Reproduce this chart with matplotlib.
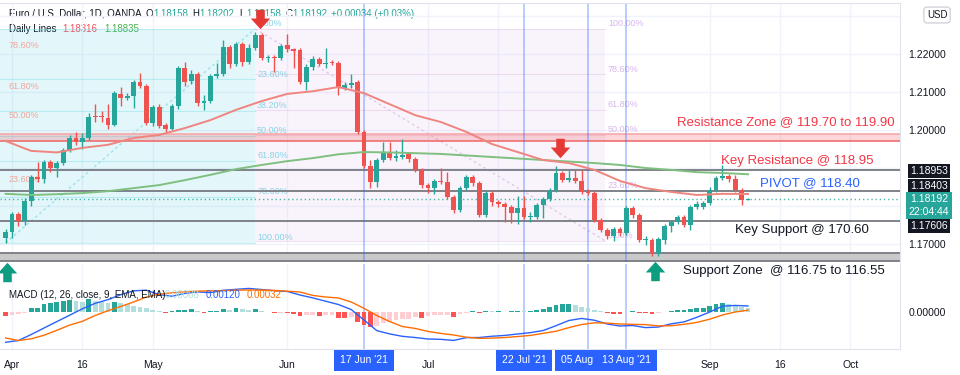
import numpy as np
import pandas as pd
import matplotlib
matplotlib.use("Agg")
import matplotlib.pyplot as plt
from matplotlib.path import Path
from matplotlib.transforms import blended_transform_factory

plt.rcParams['font.family'] = ['Liberation Sans', 'DejaVu Sans']

# EUR/USD daily bars, first bar 31 Mar 2021, last bar 09 Sep 2021
first_day = "2021-03-31"
opens = [1.1716, 1.1732, 1.1779, 1.1760, 1.1813, 1.1876, 1.1871, 1.1916, 1.1900, 1.1913,
         1.1947, 1.1979, 1.1968, 1.1979, 1.2037, 1.2037, 1.2032, 1.2013, 1.2095, 1.2084,
         1.2089, 1.2126, 1.2116, 1.2018, 1.2060, 1.2013, 1.2003, 1.2063, 1.2163, 1.2129,
         1.2147, 1.2071, 1.2076, 1.2142, 1.2147, 1.2218, 1.2174, 1.2226, 1.2179, 1.2216,
         1.2250, 1.2190, 1.2192, 1.2190, 1.2224, 1.2213, 1.2211, 1.2126, 1.2166, 1.2187,
         1.2174, 1.2179, 1.2176, 1.2110, 1.2118, 1.2126, 1.1995, 1.1905, 1.1863, 1.1921,
         1.1942, 1.1926, 1.1929, 1.1937, 1.1924, 1.1895, 1.1855, 1.1847, 1.1866, 1.1863,
         1.1824, 1.1789, 1.1847, 1.1876, 1.1861, 1.1776, 1.1834, 1.1810, 1.1805, 1.1797,
         1.1782, 1.1795, 1.1771, 1.1771, 1.1803, 1.1818, 1.1842, 1.1887, 1.1868, 1.1874,
         1.1866, 1.1837, 1.1834, 1.1763, 1.1737, 1.1721, 1.1739, 1.1729, 1.1795, 1.1776,
         1.1710, 1.1710, 1.1676, 1.1710, 1.1747, 1.1758, 1.1771, 1.1750, 1.1797, 1.1797,
         1.1808, 1.1842, 1.1874, 1.1879, 1.1871, 1.1842, 1.18158]
highs = [1.1739, 1.1784, 1.1784, 1.1821, 1.1882, 1.1916, 1.1921, 1.1921, 1.1918, 1.1953,
         1.1987, 1.1995, 1.1992, 1.2045, 1.2068, 1.2050, 1.2068, 1.2102, 1.2113, 1.2097,
         1.2132, 1.2150, 1.2121, 1.2066, 1.2068, 1.2018, 1.2068, 1.2168, 1.2179, 1.2158,
         1.2153, 1.2092, 1.2147, 1.2176, 1.2237, 1.2224, 1.2232, 1.2232, 1.2226, 1.2258,
         1.2255, 1.2197, 1.2197, 1.2226, 1.2253, 1.2216, 1.2216, 1.2174, 1.2195, 1.2192,
         1.2216, 1.2184, 1.2182, 1.2126, 1.2147, 1.2132, 1.2000, 1.1921, 1.1926, 1.1968,
         1.1968, 1.1947, 1.1976, 1.1942, 1.1929, 1.1900, 1.1861, 1.1871, 1.1900, 1.1889,
         1.1829, 1.1853, 1.1882, 1.1882, 1.1866, 1.1839, 1.1839, 1.1816, 1.1810, 1.1803,
         1.1826, 1.1826, 1.1784, 1.1808, 1.1824, 1.1847, 1.1905, 1.1892, 1.1895, 1.1895,
         1.1895, 1.1845, 1.1839, 1.1768, 1.1742, 1.1745, 1.1745, 1.1800, 1.1800, 1.1782,
         1.1721, 1.1716, 1.1718, 1.1753, 1.1763, 1.1776, 1.1776, 1.1803, 1.1813, 1.1813,
         1.1850, 1.1879, 1.1908, 1.1884, 1.1882, 1.1847, 1.18202]
lows = [1.1703, 1.1716, 1.1747, 1.1750, 1.1800, 1.1863, 1.1861, 1.1889, 1.1876, 1.1908,
        1.1942, 1.1961, 1.1950, 1.1974, 1.2021, 1.2021, 1.2003, 1.2010, 1.2063, 1.2079,
        1.2058, 1.2110, 1.2013, 1.2010, 1.2005, 1.1992, 1.2000, 1.2055, 1.2116, 1.2121,
        1.2063, 1.2053, 1.2071, 1.2137, 1.2142, 1.2163, 1.2168, 1.2168, 1.2174, 1.2211,
        1.2184, 1.2179, 1.2153, 1.2184, 1.2205, 1.2163, 1.2121, 1.2105, 1.2158, 1.2168,
        1.2163, 1.2171, 1.2092, 1.2105, 1.2110, 1.1989, 1.1900, 1.1847, 1.1850, 1.1916,
        1.1921, 1.1918, 1.1924, 1.1916, 1.1889, 1.1847, 1.1834, 1.1832, 1.1858, 1.1818,
        1.1782, 1.1784, 1.1842, 1.1853, 1.1771, 1.1771, 1.1800, 1.1797, 1.1758, 1.1755,
        1.1753, 1.1766, 1.1758, 1.1766, 1.1768, 1.1813, 1.1837, 1.1863, 1.1863, 1.1861,
        1.1832, 1.1829, 1.1758, 1.1732, 1.1713, 1.1708, 1.1721, 1.1724, 1.1768, 1.1705,
        1.1697, 1.1668, 1.1668, 1.1700, 1.1732, 1.1753, 1.1745, 1.1737, 1.1792, 1.1792,
        1.1803, 1.1837, 1.1868, 1.1863, 1.1837, 1.1803, 1.18158]
closes = [1.1732, 1.1779, 1.1760, 1.1813, 1.1876, 1.1871, 1.1916, 1.1900, 1.1913, 1.1947,
          1.1979, 1.1968, 1.1979, 1.2034, 1.2034, 1.2034, 1.2013, 1.2097, 1.2084, 1.2089,
          1.2126, 1.2116, 1.2018, 1.2060, 1.2010, 1.2003, 1.2063, 1.2163, 1.2126, 1.2147,
          1.2071, 1.2076, 1.2142, 1.2147, 1.2218, 1.2174, 1.2226, 1.2179, 1.2216, 1.2250,
          1.2190, 1.2192, 1.2190, 1.2221, 1.2213, 1.2208, 1.2126, 1.2166, 1.2187, 1.2174,
          1.2176, 1.2176, 1.2110, 1.2118, 1.2124, 1.1995, 1.1905, 1.1863, 1.1921, 1.1942,
          1.1926, 1.1932, 1.1934, 1.1924, 1.1895, 1.1855, 1.1847, 1.1866, 1.1863, 1.1824,
          1.1789, 1.1847, 1.1876, 1.1861, 1.1776, 1.1834, 1.1810, 1.1805, 1.1797, 1.1782,
          1.1795, 1.1771, 1.1774, 1.1803, 1.1818, 1.1842, 1.1887, 1.1868, 1.1874, 1.1866,
          1.1837, 1.1834, 1.1763, 1.1737, 1.1721, 1.1739, 1.1729, 1.1795, 1.1776, 1.1710,
          1.1713, 1.1676, 1.1713, 1.1747, 1.1758, 1.1771, 1.1750, 1.1797, 1.1805, 1.1808,
          1.1842, 1.1874, 1.1879, 1.1871, 1.1842, 1.1816, 1.18192]

# moving averages ("Daily Lines"), read every 4th bar
ma_bars = list(range(0, 117, 4))
ma_red = [1.1971, 1.1945, 1.1941, 1.1953, 1.1961, 1.1979, 1.1987, 1.2005, 1.2026, 1.2053,
          1.2076, 1.2095, 1.2102, 1.2113, 1.2097, 1.2068, 1.2039, 1.2021, 1.1995, 1.1963,
          1.1942, 1.1921, 1.1913, 1.1895, 1.1866, 1.1847, 1.1837, 1.1829, 1.1832, 1.18316]
ma_green = [1.1832, 1.1829, 1.1831, 1.1834, 1.1839, 1.1847, 1.1855, 1.1868, 1.1882, 1.1897,
            1.1908, 1.1918, 1.1926, 1.1936, 1.1942, 1.1941, 1.1939, 1.1937, 1.1933, 1.1929,
            1.1925, 1.1921, 1.1917, 1.1913, 1.1908, 1.1900, 1.1895, 1.1889, 1.1887, 1.18835]

# MACD (12, 26, 9), lines read every 2nd bar, histogram every bar
macd_bars = list(range(0, 117, 2))
macd_line = [-0.00641, -0.00605, -0.00479, -0.00342, -0.00208, -0.00074, 0.00061, 0.00176,
             0.00254, 0.00357, 0.00439, 0.00452, 0.00359, 0.00326, 0.00384, 0.00416, 0.00401,
             0.00449, 0.00470, 0.00489, 0.00466, 0.00441, 0.00426, 0.00351, 0.00290, 0.00221,
             0.00151, 0.00046, -0.00174, -0.00397, -0.00466, -0.00517, -0.00542, -0.00573,
             -0.00580, -0.00603, -0.00544, -0.00542, -0.00515, -0.00498, -0.00468, -0.00439,
             -0.00395, -0.00294, -0.00185, -0.00141, -0.00179, -0.00258, -0.00300, -0.00290,
             -0.00334, -0.00321, -0.00254, -0.00214, -0.00118, -0.00008, 0.00116, 0.00132,
             0.00120]
signal_line = [-0.00552, -0.00605, -0.00569, -0.00494, -0.00391, -0.00281, -0.00202, -0.00078,
               0.00021, 0.00111, 0.00204, 0.00309, 0.00368, 0.00397, 0.00418, 0.00433, 0.00437,
               0.00443, 0.00452, 0.00456, 0.00456, 0.00447, 0.00431, 0.00414, 0.00342, 0.00309,
               0.00288, 0.00204, 0.00071, -0.00080, -0.00206, -0.00311, -0.00351, -0.00414,
               -0.00456, -0.00489, -0.00536, -0.00559, -0.00554, -0.00542, -0.00521, -0.00498,
               -0.00454, -0.00410, -0.00334, -0.00269, -0.00233, -0.00239, -0.00258, -0.00265,
               -0.00271, -0.00298, -0.00294, -0.00265, -0.00225, -0.00158, -0.00069, -0.00006,
               0.00032]
macd_hist = [-0.00084, -0.00063, -0.00042, -0.00021, 0.00084, 0.00088, 0.00168, 0.00189, 0.00210,
             0.00231, 0.00252, 0.00231, 0.00210, 0.00258, 0.00231, 0.00200, 0.00179, 0.00210,
             0.00179, 0.00153, 0.00120, 0.00090, 0.00069, 0.00036, 0.00015, -0.00021, 0.00021,
             0.00036, 0.00037, 0.00048, 0.00021, -0.00021, 0.00010, 0.00021, 0.00057, 0.00036,
             0.00069, 0.00048, 0.00046, 0.00057, 0.00021, -0.00006, -0.00036, -0.00021,
             -0.00036, -0.00048, -0.00090, -0.00069, -0.00067, -0.00090, -0.00069, -0.00067,
             -0.00126, -0.00130, -0.00105, -0.00210, -0.00279, -0.00330, -0.00300, -0.00246,
             -0.00210, -0.00174, -0.00162, -0.00147, -0.00120, -0.00126, -0.00090, -0.00069,
             -0.00067, -0.00065, -0.00105, -0.00057, -0.00036, 0.00021, -0.00021, 0.00015,
             0.00010, 0.00012, -0.00010, 0.00010, 0.00012, 0.00006, 0.00015, 0.00036, 0.00057,
             0.00090, 0.00141, 0.00153, 0.00156, 0.00141, 0.00105, 0.00084, 0.00036, 0.00006,
             -0.00036, -0.00038, -0.00048, -0.00010, 0.00010, -0.00021, -0.00023, -0.00048,
             -0.00036, -0.00015, 0.00015, 0.00036, 0.00038, 0.00057, 0.00069, 0.00084, 0.00120,
             0.00153, 0.00174, 0.00153, 0.00120, 0.00105, 0.00088]

# horizontal levels
resist_zone = [1.1970, 1.1990]
support_zone = [1.1655, 1.1675]
key_resistance = 1.18953
pivot = 1.18403
key_support = 1.17606
last_price = 1.18192

# fibonacci drawings: [bar_start, bar_end], [low, high]
fib_cyan_bars = [-2, 39]
fib_cyan_range = [1.1703, 1.2266]
fib_pink_bars = [39, 93.7]
fib_pink_range = [1.1708, 1.2266]
fib_salmon_range = [1.1703, 1.2347]
fib_levels = [0.0, 0.236, 0.382, 0.5, 0.618, 0.786, 1.0]

tick_dates = ["2021-04-01", "2021-04-16", "2021-05-03", "2021-06-01", "2021-07-01",
              "2021-09-01", "2021-09-16", "2021-10-01"]
tick_names = ["Apr", "16", "May", "Jun", "Jul", "Sep", "16", "Oct"]
grid_dates = tick_dates + ["2021-07-16"]
marked_dates = ["2021-06-17", "2021-07-22", "2021-08-05", "2021-08-13"]
marked_names = ["17 Jun '21", "22 Jul '21", "05 Aug", "13 Aug '21"]

# arrows: (bar, price)
red_arrows = [(39.8, 1.2292), (86.6, 1.1953)]
green_arrows = [(0.2, 1.1626), (101.5, 1.1629)]

UP, DOWN = "#26a69a", "#ef5350"
INK = "#131722"
GRID = "#f0f3fa"

days = pd.bdate_range(first_day, periods=200)
def bar_of(d):
    return days.get_loc(pd.Timestamp(d))

bars = np.arange(len(closes)).astype(float)
o, h, l, c = map(np.array, (opens, highs, lows, closes))

W, H = 960, 375
fig = plt.figure(figsize=(9.6, 3.75), dpi=100, facecolor="white")
ax = fig.add_axes([0, 1 - 262 / H, 900 / W, 259 / H])
ax2 = fig.add_axes([0, 1 - 349 / H, 900 / W, 85 / H])
ax.set_zorder(3)
ax.set_facecolor("none")

xlim = (-0.875, 139.75)
ax.set_xlim(xlim)
ax2.set_xlim(xlim)
ax.set_ylim(1.165263, 1.233421)
ax2.set_ylim(-0.00783, 0.01002)

def px(x, y):
    return x / W, 1 - y / H

# grid
tick_pos = [bar_of(d) for d in tick_dates]
for t in [bar_of(d) for d in grid_dates]:
    ax.axvline(t, color=GRID, lw=1, zorder=0)
    ax2.axvline(t, color=GRID, lw=1, zorder=0)
price_ticks = [1.17, 1.18, 1.19, 1.20, 1.21, 1.22, 1.23]
for p in price_ticks:
    ax.axhline(p, color=GRID, lw=1, zorder=0)

# fib boxes
cy0, cy1 = fib_cyan_range
ax.fill_between(fib_cyan_bars, cy0, cy1, color="#00bcd4", alpha=0.11, lw=0, zorder=0.5)
for lv in fib_levels:
    pr = cy1 - lv * (cy1 - cy0)
    ax.plot(fib_cyan_bars, [pr, pr], color="#80deea", lw=0.8, alpha=0.45, zorder=0.6)
    ax.text(fib_cyan_bars[1] + 0.3, pr + 0.0002, f"{lv * 100:.2f}%", color="#86d3e6",
            fontsize=6.5, va="bottom", ha="left", zorder=1)
ax.plot([0, fib_cyan_bars[1]], [cy0, cy1], color="#9fe0ee", lw=1, ls=(0, (2, 2)), zorder=0.7)

py0, py1 = fib_pink_range
ax.fill_between(fib_pink_bars, py0, py1, color="#b36bd0", alpha=0.07, lw=0, zorder=0.5)
for lv in [0.0, 0.236, 0.5, 0.618, 0.786, 1.0]:
    pr = py0 + lv * (py1 - py0)
    ax.plot(fib_pink_bars, [pr, pr], color="#e1bee7", lw=0.8, alpha=0.45, zorder=0.6)
    ax.text(fib_pink_bars[1] + 0.4, pr + 0.0002, f"{lv * 100:.2f}%", color="#d7b6ec",
            fontsize=6.5, va="bottom", ha="left", zorder=1)
ax.plot(fib_pink_bars, [py1, py0], color="#e3c9ee", lw=1, ls=(0, (2, 2)), zorder=0.7)

sy0, sy1 = fib_salmon_range
for lv in [0.236, 0.5, 0.618, 0.786]:
    pr = sy0 + lv * (sy1 - sy0)
    ax.text(0.4, pr + 0.0002, f"{lv * 100:.2f}%", color="#f2a59d",
            fontsize=6.5, va="bottom", ha="left", zorder=1)

# zones and lines
ax.axhspan(resist_zone[0], resist_zone[1], color="#f23645", alpha=0.2, lw=0, zorder=1)
ax.axhline(resist_zone[1], color="#f7a9a8", lw=1.2, zorder=1.1)
ax.axhline(resist_zone[0], color="#ee6f6d", lw=1.2, zorder=1.1)
ax.axhspan(support_zone[0], support_zone[1], color="#c9c9c9", lw=0, zorder=1)
for p in support_zone + [key_resistance, pivot, key_support]:
    ax.axhline(p, color="#7f8288", lw=1.4, zorder=1.1)
ax.axhline(last_price, color=UP, lw=1, ls=(0, (1, 2)), alpha=0.8, zorder=1.1)

# marked dates
for d in marked_dates:
    b = bar_of(d)
    ax.axvline(b, color="#2962ff", alpha=0.35, lw=1.3, zorder=1.2)
    ax2.axvline(b, color="#2962ff", alpha=0.35, lw=1.3, zorder=1.2)

# candles
col = np.where(c >= o, UP, DOWN)
ax.vlines(bars, l, h, colors=col, lw=1, zorder=2)
body = np.maximum(np.abs(c - o), 0.00007)
ax.bar(bars, body, bottom=np.minimum(o, c), width=0.72, color=col, lw=0, zorder=2.1)

# moving averages
ax.plot(ma_bars, ma_red, color="#f0857f", lw=1.4, zorder=2.5)
ax.plot(ma_bars, ma_green, color="#7fbf7f", lw=1.4, zorder=2.4)

# arrows
arrow = Path([(-0.22, 0.5), (0.22, 0.5), (0.22, 0.05), (0.5, 0.05), (0, -0.5),
              (-0.5, 0.05), (-0.22, 0.05), (-0.22, 0.5)], closed=True)
up_arrow = Path(arrow.vertices * [1, -1], closed=True)
for b, p in red_arrows:
    ax.plot(b, p, marker=arrow, ms=14, color="#e53935", mec="none", clip_on=False, zorder=4)
for b, p in green_arrows:
    ax.plot(b, p, marker=up_arrow, ms=14, color="#0f9d82", mec="none", clip_on=False, zorder=4)

# annotations
def note(x, y, s, color):
    fx, fy = px(x, y)
    fig.text(fx, fy, s, color=color, fontsize=9.5, ha="left", va="center", zorder=8)

note(677, 122, "Resistance Zone @ 119.70 to 119.90", "#f23645")
note(721, 161, "Key Resistance @ 118.95", "#f23645")
note(760, 183, "PIVOT @ 118.40", "#2962ff")
note(735, 230, "Key Support @ 170.60", INK)
note(683, 271, "Support Zone  @ 116.75 to 116.55", INK)

# header
def head(x, y, s, color, fs=7, z=1):
    fx, fy = px(x, y)
    fig.text(fx, fy, s, color=color, fontsize=fs, ha="left", va="center", zorder=z)

head(9, 14, "Euro / U.S. Dollar, 1D, OANDA", INK)
for x0, k, v in [(146, "O", "1.18158"), (192, "H", "1.18202"), (239, "L", "1.18158"),
                 (285, "C", "1.18192")]:
    head(x0, 14, k, INK)
    head(x0 + 7, 14, v, UP)
head(331, 14, "+0.00034 (+0.03%)", UP)
head(9, 29, "Daily Lines", INK)
head(62, 29, "1.18316", "#f7525f")
head(104, 29, "1.18835", "#4caf50")

# MACD pane
hist_cols = []
prev = 0.0
for v in macd_hist:
    if v >= 0:
        hist_cols.append("#26a69a" if v >= prev else "#b2dfdb")
    else:
        hist_cols.append("#ff5252" if v < prev else "#ffcdd2")
    prev = v
ax2.bar(bars, macd_hist, width=0.72, color=hist_cols, lw=0, zorder=2)
ax2.plot(macd_bars, macd_line, color="#2962ff", lw=1, zorder=3)
ax2.plot(macd_bars, signal_line, color="#ff6d00", lw=1, zorder=3)
head(9, 295, "MACD (12, 26, close, 9, EMA, EMA)", INK, z=5)
head(165, 295, "0.00088", "#b2dfdb", z=5)
head(206, 295, "0.00120", "#2962ff", z=5)
head(247, 295, "0.00032", "#ff6d00", z=5)

# axes styling
for a in (ax, ax2):
    for s in a.spines.values():
        s.set_visible(False)
    a.spines["right"].set_visible(True)
    a.spines["right"].set_color("#e0e3eb")
ax.spines["top"].set_visible(True)
ax.spines["top"].set_color("#e0e3eb")
ax2.spines["bottom"].set_visible(True)
ax2.spines["bottom"].set_color("#e0e3eb")

# price scale: 1.18/1.19/1.23 sit under the tags and the currency box
shown_ticks = [1.17, 1.20, 1.21, 1.22]
ax.set_xticks(tick_pos)
ax.tick_params(axis="x", length=0, labelbottom=False)
ax.yaxis.tick_right()
ax.set_yticks(shown_ticks)
ax.set_yticklabels([f"{p:.5f}" for p in shown_ticks])
ax.tick_params(axis="y", length=0, pad=6, labelsize=7.5, labelcolor=INK)

ax2.set_xticks(tick_pos)
ax2.set_xticklabels(tick_names)
ax2.tick_params(axis="x", length=0, pad=8, labelsize=7.5, labelcolor=INK)
ax2.yaxis.tick_right()
ax2.set_yticks([0])
ax2.set_yticklabels(["0.00000"])
ax2.tick_params(axis="y", length=0, pad=6, labelsize=7.5, labelcolor=INK)

# highlighted dates on the time scale; the 05 Aug box runs under the 13 Aug one
tr = blended_transform_factory(ax2.transData, ax2.transAxes)
for d, s in zip(marked_dates, marked_names):
    b = bar_of(d)
    if s == "05 Aug":
        ax2.text(b - 1.3, -0.135, s + "  ", transform=tr, ha="center", va="center",
                 color="white", fontsize=7.5, clip_on=False, zorder=5,
                 bbox=dict(boxstyle="square,pad=0.55", fc="#2962ff", ec="none"))
        continue
    ax2.text(b, -0.135, s, transform=tr, ha="center", va="center", color="white",
             fontsize=7.5, clip_on=False, zorder=6,
             bbox=dict(boxstyle="square,pad=0.55", fc="#2962ff", ec="none"))

# price tags on the scale
def tag(y, s, fc):
    fx, fy = px(929, y)
    fig.text(fx, fy, s, color="white", fontsize=7.5, ha="center", va="center", zorder=10,
             linespacing=1.35,
             bbox=dict(boxstyle="square,pad=0.22", fc=fc, ec="none"))

tag(171, "1.18953", INK)
tag(186, "1.18403", INK)
tag(205.5, "1.18192\n22:04:44", UP)
tag(226, "1.17606", INK)
fx, fy = px(937, 15)
fig.text(fx, fy, "USD", color=INK, fontsize=7, ha="center", va="center", zorder=10,
         bbox=dict(boxstyle="round,pad=0.3", fc="white", ec="#d1d4dc"))

fig.savefig("out.png", dpi=100, facecolor="white")
